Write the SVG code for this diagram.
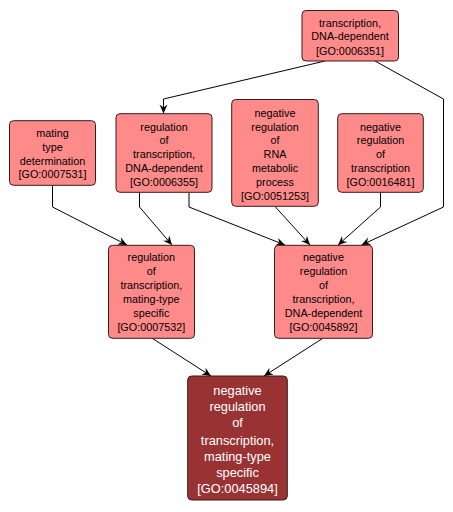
<svg xmlns="http://www.w3.org/2000/svg" width="453" height="512" viewBox="0 0 453 512">
<style>
.n rect{fill:#FF8A8A;stroke:#3a1a1a;stroke-width:1}
.n text{font-family:"Liberation Sans",Arial,sans-serif;font-size:10.8px;fill:#000;text-anchor:middle}
.d rect{fill:#993333;stroke:#3a1a1a;stroke-width:1}
.d text{font-family:"Liberation Sans",Arial,sans-serif;font-size:12.8px;fill:#fff;text-anchor:middle}
.e{fill:none;stroke:#000;stroke-width:1;marker-end:url(#ah)}
</style>
<defs>
<marker id="ah" markerUnits="userSpaceOnUse" markerWidth="12" markerHeight="12" viewBox="-10 -5 12 10" refX="0" refY="0" orient="auto">
<path d="M0,0 L-9,-4 L-6,0 L-9,4 Z" fill="#000"/>
</marker>
</defs>
<rect width="453" height="512" fill="#fff"/>
<g id="edges">
<polyline class="e" points="325,61 163.5,99 163.5,113.5"/>
<polyline class="e" points="375,61 443.5,99 443.5,207 361.5,245"/>
<polyline class="e" points="52.5,185.5 52.5,207 127,245"/>
<polyline class="e" points="139.5,192.5 139.5,207 172,245"/>
<polyline class="e" points="189,192.5 189,207 285,245"/>
<polyline class="e" points="275,206.5 310,245"/>
<polyline class="e" points="380.5,192.5 380.5,207 338,245"/>
<polyline class="e" points="152.5,338.5 211,376"/>
<polyline class="e" points="322.5,338.5 264,376"/>
</g>
<g id="GO0006351" class="n">
<rect x="302" y="10.5" width="96.5" height="50.5" rx="4"/>
<text x="350" y="26.5">transcription,</text>
<text x="350" y="40.3">DNA-dependent</text>
<text x="350" y="54.5">[GO:0006351]</text>
</g>
<g id="GO0006355" class="n">
<rect x="116" y="113.7" width="96" height="78.6" rx="4"/>
<text x="164" y="130.6">regulation</text>
<text x="164" y="144.2">of</text>
<text x="164" y="158.2">transcription,</text>
<text x="164" y="172.2">DNA-dependent</text>
<text x="164" y="185.9">[GO:0006355]</text>
</g>
<g id="GO0051253" class="n">
<rect x="231.7" y="99.5" width="86.6" height="106.8" rx="4"/>
<text x="275" y="116.6">negative</text>
<text x="275" y="130.6">regulation</text>
<text x="275" y="144.2">of</text>
<text x="275" y="158.2">RNA</text>
<text x="275" y="172.2">metabolic</text>
<text x="275" y="185.9">process</text>
<text x="275" y="199.9">[GO:0051253]</text>
</g>
<g id="GO0007531" class="n">
<rect x="9.5" y="120.7" width="86" height="64.6" rx="4"/>
<text x="52.5" y="137.2">mating</text>
<text x="52.5" y="150.9">type</text>
<text x="52.5" y="165.2">determination</text>
<text x="52.5" y="178.2">[GO:0007531]</text>
</g>
<g id="GO0016481" class="n">
<rect x="337.7" y="113.7" width="85.6" height="78.6" rx="4"/>
<text x="380.5" y="130.6">negative</text>
<text x="380.5" y="144.2">regulation</text>
<text x="380.5" y="158.2">of</text>
<text x="380.5" y="172.2">transcription</text>
<text x="380.5" y="185.9">[GO:0016481]</text>
</g>
<g id="GO0007532" class="n">
<rect x="108.5" y="245.3" width="86" height="93" rx="4"/>
<text x="151.3" y="261.2">regulation</text>
<text x="151.3" y="275.2">of</text>
<text x="151.3" y="288.9">transcription,</text>
<text x="151.3" y="303.2">mating-type</text>
<text x="151.3" y="317.2">specific</text>
<text x="151.3" y="330.9">[GO:0007532]</text>
</g>
<g id="GO0045892" class="n">
<rect x="274.5" y="245.3" width="98" height="93" rx="4"/>
<text x="323.5" y="261.2">negative</text>
<text x="323.5" y="275.2">regulation</text>
<text x="323.5" y="288.9">of</text>
<text x="323.5" y="303.2">transcription,</text>
<text x="323.5" y="317.2">DNA-dependent</text>
<text x="323.5" y="330.9">[GO:0045892]</text>
</g>
<g id="GO0045894" class="d">
<rect x="187.7" y="376" width="99.6" height="124" rx="4"/>
<text x="237.5" y="394.6">negative</text>
<text x="237.5" y="411.3">regulation</text>
<text x="237.5" y="427.3">of</text>
<text x="237.5" y="444.6">transcription,</text>
<text x="237.5" y="460.6">mating-type</text>
<text x="237.5" y="476.9">specific</text>
<text x="237.5" y="492.9">[GO:0045894]</text>
</g>
</svg>
